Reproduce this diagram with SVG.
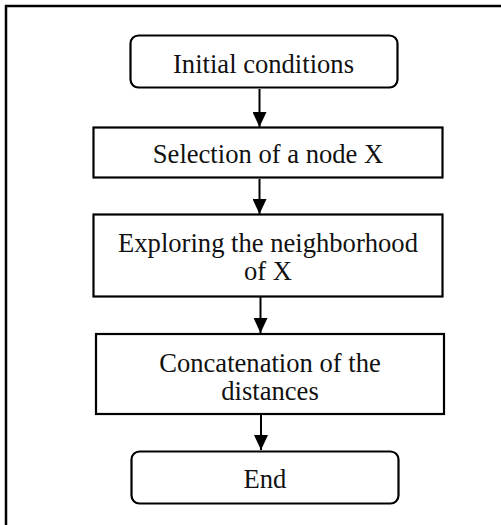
<svg xmlns="http://www.w3.org/2000/svg" width="501" height="525" viewBox="0 0 501 525">
<style>
.box{fill:#fff;stroke:#000;stroke-width:2.2}
.t{font-family:"Liberation Serif","Times New Roman",serif;font-size:26.6px;fill:#111;text-anchor:middle}
.c{stroke:#000;stroke-width:2;fill:none}
</style>
<defs>
<marker id="ah" markerWidth="15" markerHeight="14" refX="15" refY="7" orient="auto" markerUnits="userSpaceOnUse">
<path d="M0,0 L15,7 L0,14 Z" fill="#000"/>
</marker>
</defs>
<rect width="501" height="525" fill="#fff"/>
<g id="frame">
<line x1="5" y1="6" x2="501" y2="6" stroke="#000" stroke-width="2.5"/>
<line x1="6" y1="5" x2="6" y2="525" stroke="#000" stroke-width="2.5"/>
</g>
<g id="connectors">
<line class="c" x1="259.5" y1="89" x2="259.5" y2="127" marker-end="url(#ah)"/>
<line class="c" x1="259.5" y1="179" x2="259.5" y2="214" marker-end="url(#ah)"/>
<line class="c" x1="260.5" y1="297" x2="260.5" y2="333" marker-end="url(#ah)"/>
<line class="c" x1="261" y1="415" x2="261" y2="450" marker-end="url(#ah)"/>
</g>
<g id="n1">
<rect class="box" x="130.5" y="35.5" width="267" height="52" rx="8"/>
<text class="t" x="263.5" y="73">Initial conditions</text>
</g>
<g id="n2">
<rect class="box" x="93.5" y="127.5" width="349" height="50"/>
<text class="t" x="268" y="163">Selection of a node X</text>
</g>
<g id="n3">
<rect class="box" x="93.5" y="214.5" width="349" height="82"/>
<text class="t" x="268" y="252">Exploring the neighborhood</text>
<text class="t" x="268" y="280">of X</text>
</g>
<g id="n4">
<rect class="box" x="96" y="334" width="348" height="80"/>
<text class="t" x="270" y="372">Concatenation of the</text>
<text class="t" x="270" y="400">distances</text>
</g>
<g id="n5">
<rect class="box" x="131.5" y="451.5" width="267" height="52" rx="8"/>
<text class="t" x="265" y="488">End</text>
</g>
</svg>
